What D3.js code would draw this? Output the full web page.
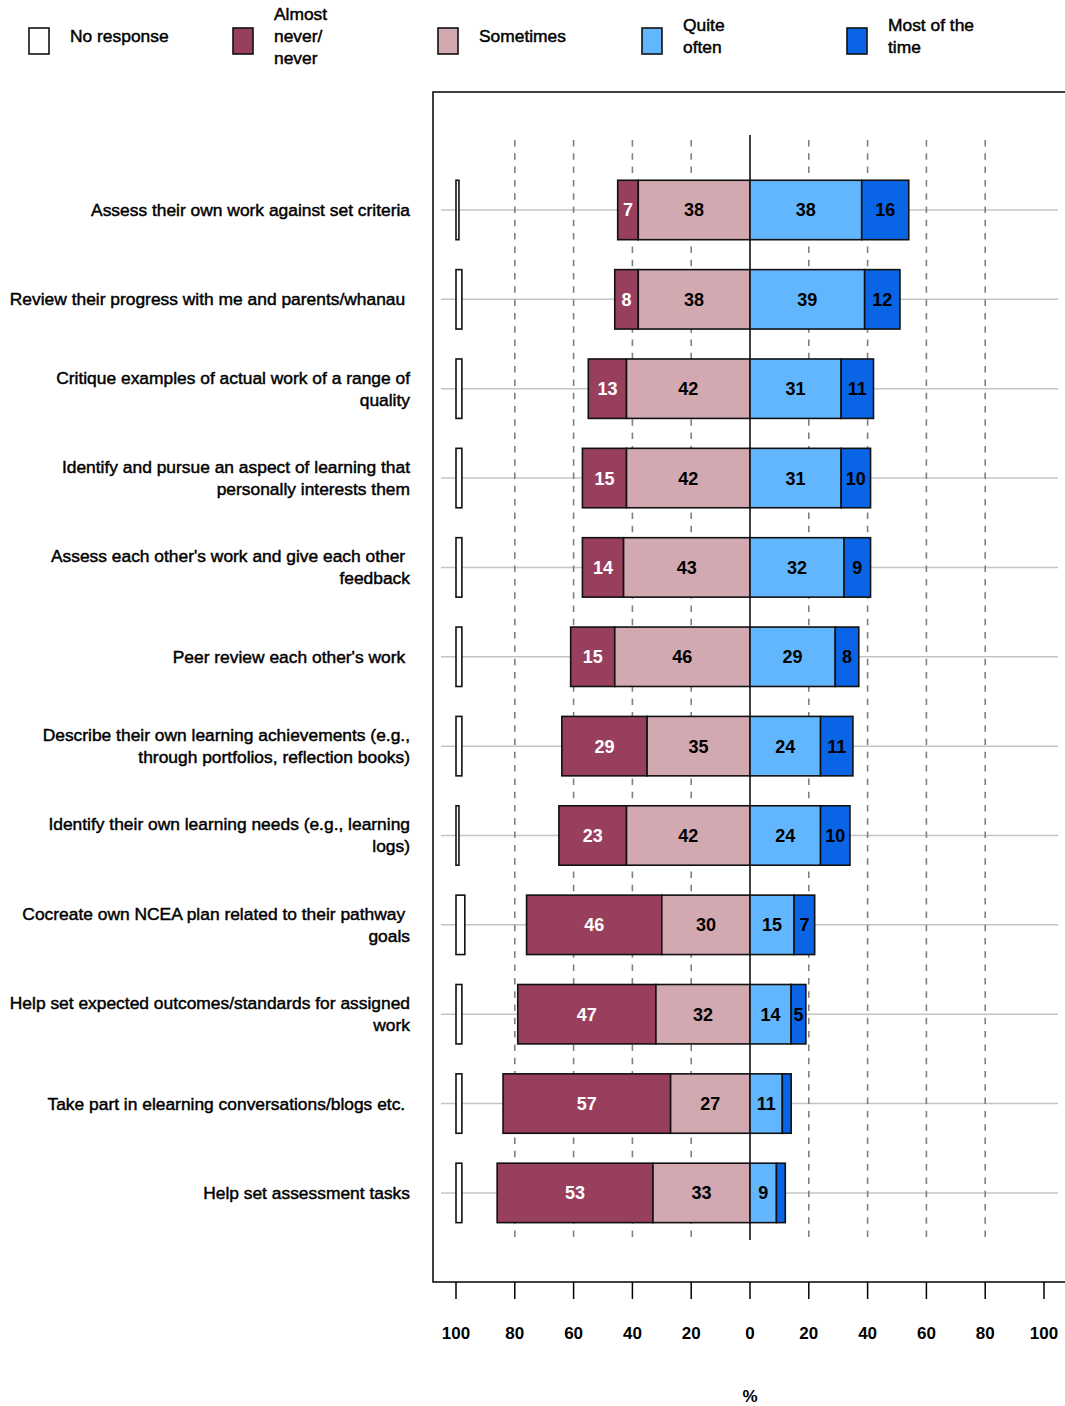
<!DOCTYPE html>
<html>
<head>
<meta charset="utf-8">
<script src="https://cdn.jsdelivr.net/npm/d3@7"></script>
<style>
  body { margin: 0; background: #fff; }
  svg text { font-family: "Liberation Sans", Arial, sans-serif; fill: #000; }
</style>
</head>
<body>
<svg id="chart" width="1065" height="1406"></svg>
<script>
// survey items, top to bottom (each entry is the lines of the label)
var items = [
    ["Assess their own work against set criteria"],
    ["Review their progress with me and parents/whanau "],
    ["Critique examples of actual work of a range of", "quality"],
    ["Identify and pursue an aspect of learning that", "personally interests them"],
    ["Assess each other's work and give each other ", "feedback"],
    ["Peer review each other's work "],
    ["Describe their own learning achievements (e.g.,", "through portfolios, reflection books)"],
    ["Identify their own learning needs (e.g., learning", "logs)"],
    ["Cocreate own NCEA plan related to their pathway ", "goals"],
    ["Help set expected outcomes/standards for assigned", "work"],
    ["Take part in elearning conversations/blogs etc. "],
    ["Help set assessment tasks"]
];

var noResponse  = [1, 2, 2, 2, 2, 2, 2, 1, 3, 2, 2, 2];
var almostNever = [7, 8, 13, 15, 14, 15, 29, 23, 46, 47, 57, 53];
var sometimes   = [38, 38, 42, 42, 43, 46, 35, 42, 30, 32, 27, 33];
var quiteOften  = [38, 39, 31, 31, 32, 29, 24, 24, 15, 14, 11, 9];
var mostOfTime  = [16, 12, 11, 10, 9, 8, 11, 10, 7, 5, 3, 3];

var xTicks = [-100, -80, -60, -40, -20, 0, 20, 40, 60, 80, 100];
var gridTicks = [-80, -60, -40, -20, 20, 40, 60, 80];

var legendLabels = [
    ["No response"],
    ["Almost", "never/", "never"],
    ["Sometimes"],
    ["Quite", "often"],
    ["Most of the", "time"]
];
var legendColors = ["#ffffff", "#983f5e", "#d2a9b0", "#62b6fe", "#0965e5"];

var svg = d3.select("#chart");

var x = d3.scaleLinear().domain([-100, 100]).range([456, 1044]);
var y = d3.scalePoint()
    .domain(d3.range(items.length))
    .range([165.3, 1237.6])
    .padding(0.5);
var barH = y.step() * 0.665;

/* frame around plot (right side runs off the page) */
svg.append("rect")
    .attr("x", 433).attr("y", 92)
    .attr("width", 700).attr("height", 1190)
    .attr("fill", "none").attr("stroke", "#000").attr("stroke-width", 1.5);

// grey row lines
svg.selectAll(".rowline").data(items).enter().append("line")
    .attr("x1", 441).attr("x2", 1058)
    .attr("y1", function(d, i){ return y(i); })
    .attr("y2", function(d, i){ return y(i); })
    .attr("stroke", "#c4c4c4").attr("stroke-width", 1.5);

// dashed grid
svg.selectAll(".grid").data(gridTicks).enter().append("line")
    .attr("x1", function(d){ return x(d); })
    .attr("x2", function(d){ return x(d); })
    .attr("y1", 140).attr("y2", 1240)
    .attr("stroke", "#808080").attr("stroke-width", 1.6)
    .attr("stroke-dasharray", "6.5,6.8");

// zero line
svg.append("line")
    .attr("x1", x(0)).attr("x2", x(0))
    .attr("y1", 135).attr("y2", 1240)
    .attr("stroke", "#000").attr("stroke-width", 1.5);

/* build segments from the arrays */
var segs = [];
items.forEach(function(d, i){
    segs.push({row: i, x0: -100, x1: -100 + noResponse[i], v: noResponse[i], c: 0, lab: false});
    segs.push({row: i, x0: -sometimes[i] - almostNever[i], x1: -sometimes[i], v: almostNever[i], c: 1, lab: true});
    segs.push({row: i, x0: -sometimes[i], x1: 0, v: sometimes[i], c: 2, lab: true});
    segs.push({row: i, x0: 0, x1: quiteOften[i], v: quiteOften[i], c: 3, lab: true});
    segs.push({row: i, x0: quiteOften[i], x1: quiteOften[i] + mostOfTime[i], v: mostOfTime[i], c: 4, lab: true});
});

svg.selectAll(".seg").data(segs).enter().append("rect")
    .attr("x", function(d){ return x(d.x0); })
    .attr("width", function(d){ return x(d.x1) - x(d.x0); })
    .attr("y", function(d){ return y(d.row) - barH / 2; })
    .attr("height", barH)
    .attr("fill", function(d){ return legendColors[d.c]; })
    .attr("stroke", "#111").attr("stroke-width", 1.6);

svg.selectAll(".val").data(segs.filter(function(d){ return d.lab && d.v >= 5; })).enter().append("text")
    .attr("x", function(d){ return (x(d.x0) + x(d.x1)) / 2; })
    .attr("y", function(d){ return y(d.row) + 6.5; })
    .attr("text-anchor", "middle")
    .attr("font-size", 18).attr("font-weight", "bold")
    .style("fill", function(d){ return d.c == 1 ? "#fff" : "#000"; })
    .text(function(d){ return d.v; });

// item labels
items.forEach(function(lines, i){
    var t = svg.append("text")
        .attr("text-anchor", "end")
        .attr("font-size", 17.4)
        .attr("stroke", "#000").attr("stroke-width", 0.45)
        .style("white-space", "pre");
    var top = y(i) + 6 - (lines.length - 1) * 11;
    lines.forEach(function(s, k){
        t.append("tspan").attr("x", 410).attr("y", top + k * 22).text(s);
    });
});

/* bottom axis */
var axis = svg.append("g").attr("transform", "translate(0,1282)");
axis.selectAll("line").data(xTicks).enter().append("line")
    .attr("x1", function(d){ return x(d); })
    .attr("x2", function(d){ return x(d); })
    .attr("y1", 0).attr("y2", 17)
    .attr("stroke", "#000").attr("stroke-width", 1.5);
axis.selectAll("text").data(xTicks).enter().append("text")
    .attr("x", function(d){ return x(d); })
    .attr("y", 57)
    .attr("text-anchor", "middle")
    .attr("font-size", 17).attr("font-weight", "bold")
    .text(function(d){ return Math.abs(d); });

svg.append("text")
    .attr("x", x(0)).attr("y", 1402)
    .attr("text-anchor", "middle")
    .attr("font-size", 17).attr("font-weight", "bold")
    .text("%");

// legend
var legX = [29, 233, 438, 642, 847];
var legend = svg.selectAll(".leg").data(legendLabels).enter().append("g")
    .attr("transform", function(d, i){ return "translate(" + legX[i] + ",0)"; });
legend.append("rect")
    .attr("x", 0).attr("y", 28).attr("width", 20).attr("height", 26)
    .attr("fill", function(d, i){ return legendColors[i]; })
    .attr("stroke", "#111").attr("stroke-width", 1.6);
legend.append("text")
    .attr("font-size", 17.4)
    .attr("stroke", "#000").attr("stroke-width", 0.45)
    .each(function(lines){
        var t = d3.select(this);
        var top = 42 - (lines.length - 1) * 11;
        lines.forEach(function(s, k){
            t.append("tspan").attr("x", 41).attr("y", top + k * 22).text(s);
        });
    });
</script>
</body>
</html>
